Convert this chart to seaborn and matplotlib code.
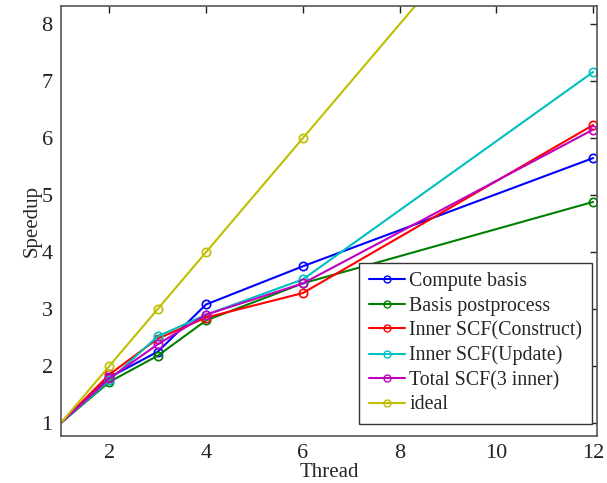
import matplotlib
matplotlib.use("Agg")
import matplotlib.pyplot as plt
import seaborn as sns
import pandas as pd

threads = [1, 2, 3, 4, 6, 12]
compute_basis = [1.0, 1.80, 2.25, 3.08, 3.75, 5.65]
basis_post = [1.0, 1.72, 2.18, 2.80, 3.45, 4.88]
inner_construct = [1.0, 1.85, 2.48, 2.85, 3.28, 6.23]
inner_update = [1.0, 1.75, 2.52, 2.90, 3.52, 7.16]
total_scf = [1.0, 1.78, 2.38, 2.90, 3.45, 6.15]
ideal = [1, 2, 3, 4, 6, 12]

names = ["Compute basis", "Basis postprocess", "Inner SCF(Construct)",
         "Inner SCF(Update)", "Total SCF(3 inner)", "ideal"]
series = [compute_basis, basis_post, inner_construct, inner_update, total_scf, ideal]
colors = ["#0000ff", "#008000", "#ff0000", "#00bfbf", "#bf00bf", "#bfbf00"]

rows = []
for n, s in zip(names, series):
    for t, v in zip(threads, s):
        rows.append({"Thread": t, "Speedup": v, "series": n})
df = pd.DataFrame(rows)

sns.set_style("white")
plt.rcParams['font.family'] = ['Liberation Serif', 'DejaVu Serif']

fig = plt.figure(figsize=(6.07, 4.83), dpi=100)
ax = fig.add_axes([61/607, 1-436/483, (597-61)/607, (436-6)/483])

sns.lineplot(data=df, x="Thread", y="Speedup", hue="series", hue_order=names,
             palette=colors, marker="o", markersize=6, markerfacecolor="none",
             markeredgewidth=1.2, linewidth=1.5, ax=ax, legend=False)
for line, c in zip(ax.lines, colors):
    line.set_markeredgecolor(c)
    line.set_markevery(list(range(1, len(threads))))

handles = [plt.Line2D([], [], color=c, marker="o", markerfacecolor="none",
                      markeredgecolor=c, markersize=5, linewidth=1.5) for c in colors]
leg = ax.legend(handles, names, loc="lower right", fontsize=14.3, frameon=True,
                fancybox=False, edgecolor="#333333", framealpha=1,
                handlelength=1.85, handletextpad=0.2, labelspacing=0.27,
                borderpad=0.48, borderaxespad=0,
                bbox_to_anchor=((592-61)/536, (436-424)/430))
leg.get_frame().set_linewidth(1.0)

ax.set_xlim(1, 12.08)
ax.set_ylim(0.77, 8.32)
ax.set_xticks([2, 4, 6, 8, 10, 12])
ax.set_yticks([1, 2, 3, 4, 5, 6, 7, 8])
ax.tick_params(direction="in", top=True, right=True, length=5, width=1,
               labelsize=16, colors="#222222", pad=6)
for sp in ax.spines.values():
    sp.set_color("#555555")
    sp.set_linewidth(1.2)
ax.set_xlabel("Thread", fontsize=15, labelpad=0)
ax.set_ylabel("Speedup", fontsize=15, labelpad=0)

fig.savefig("out.png", dpi=100)
